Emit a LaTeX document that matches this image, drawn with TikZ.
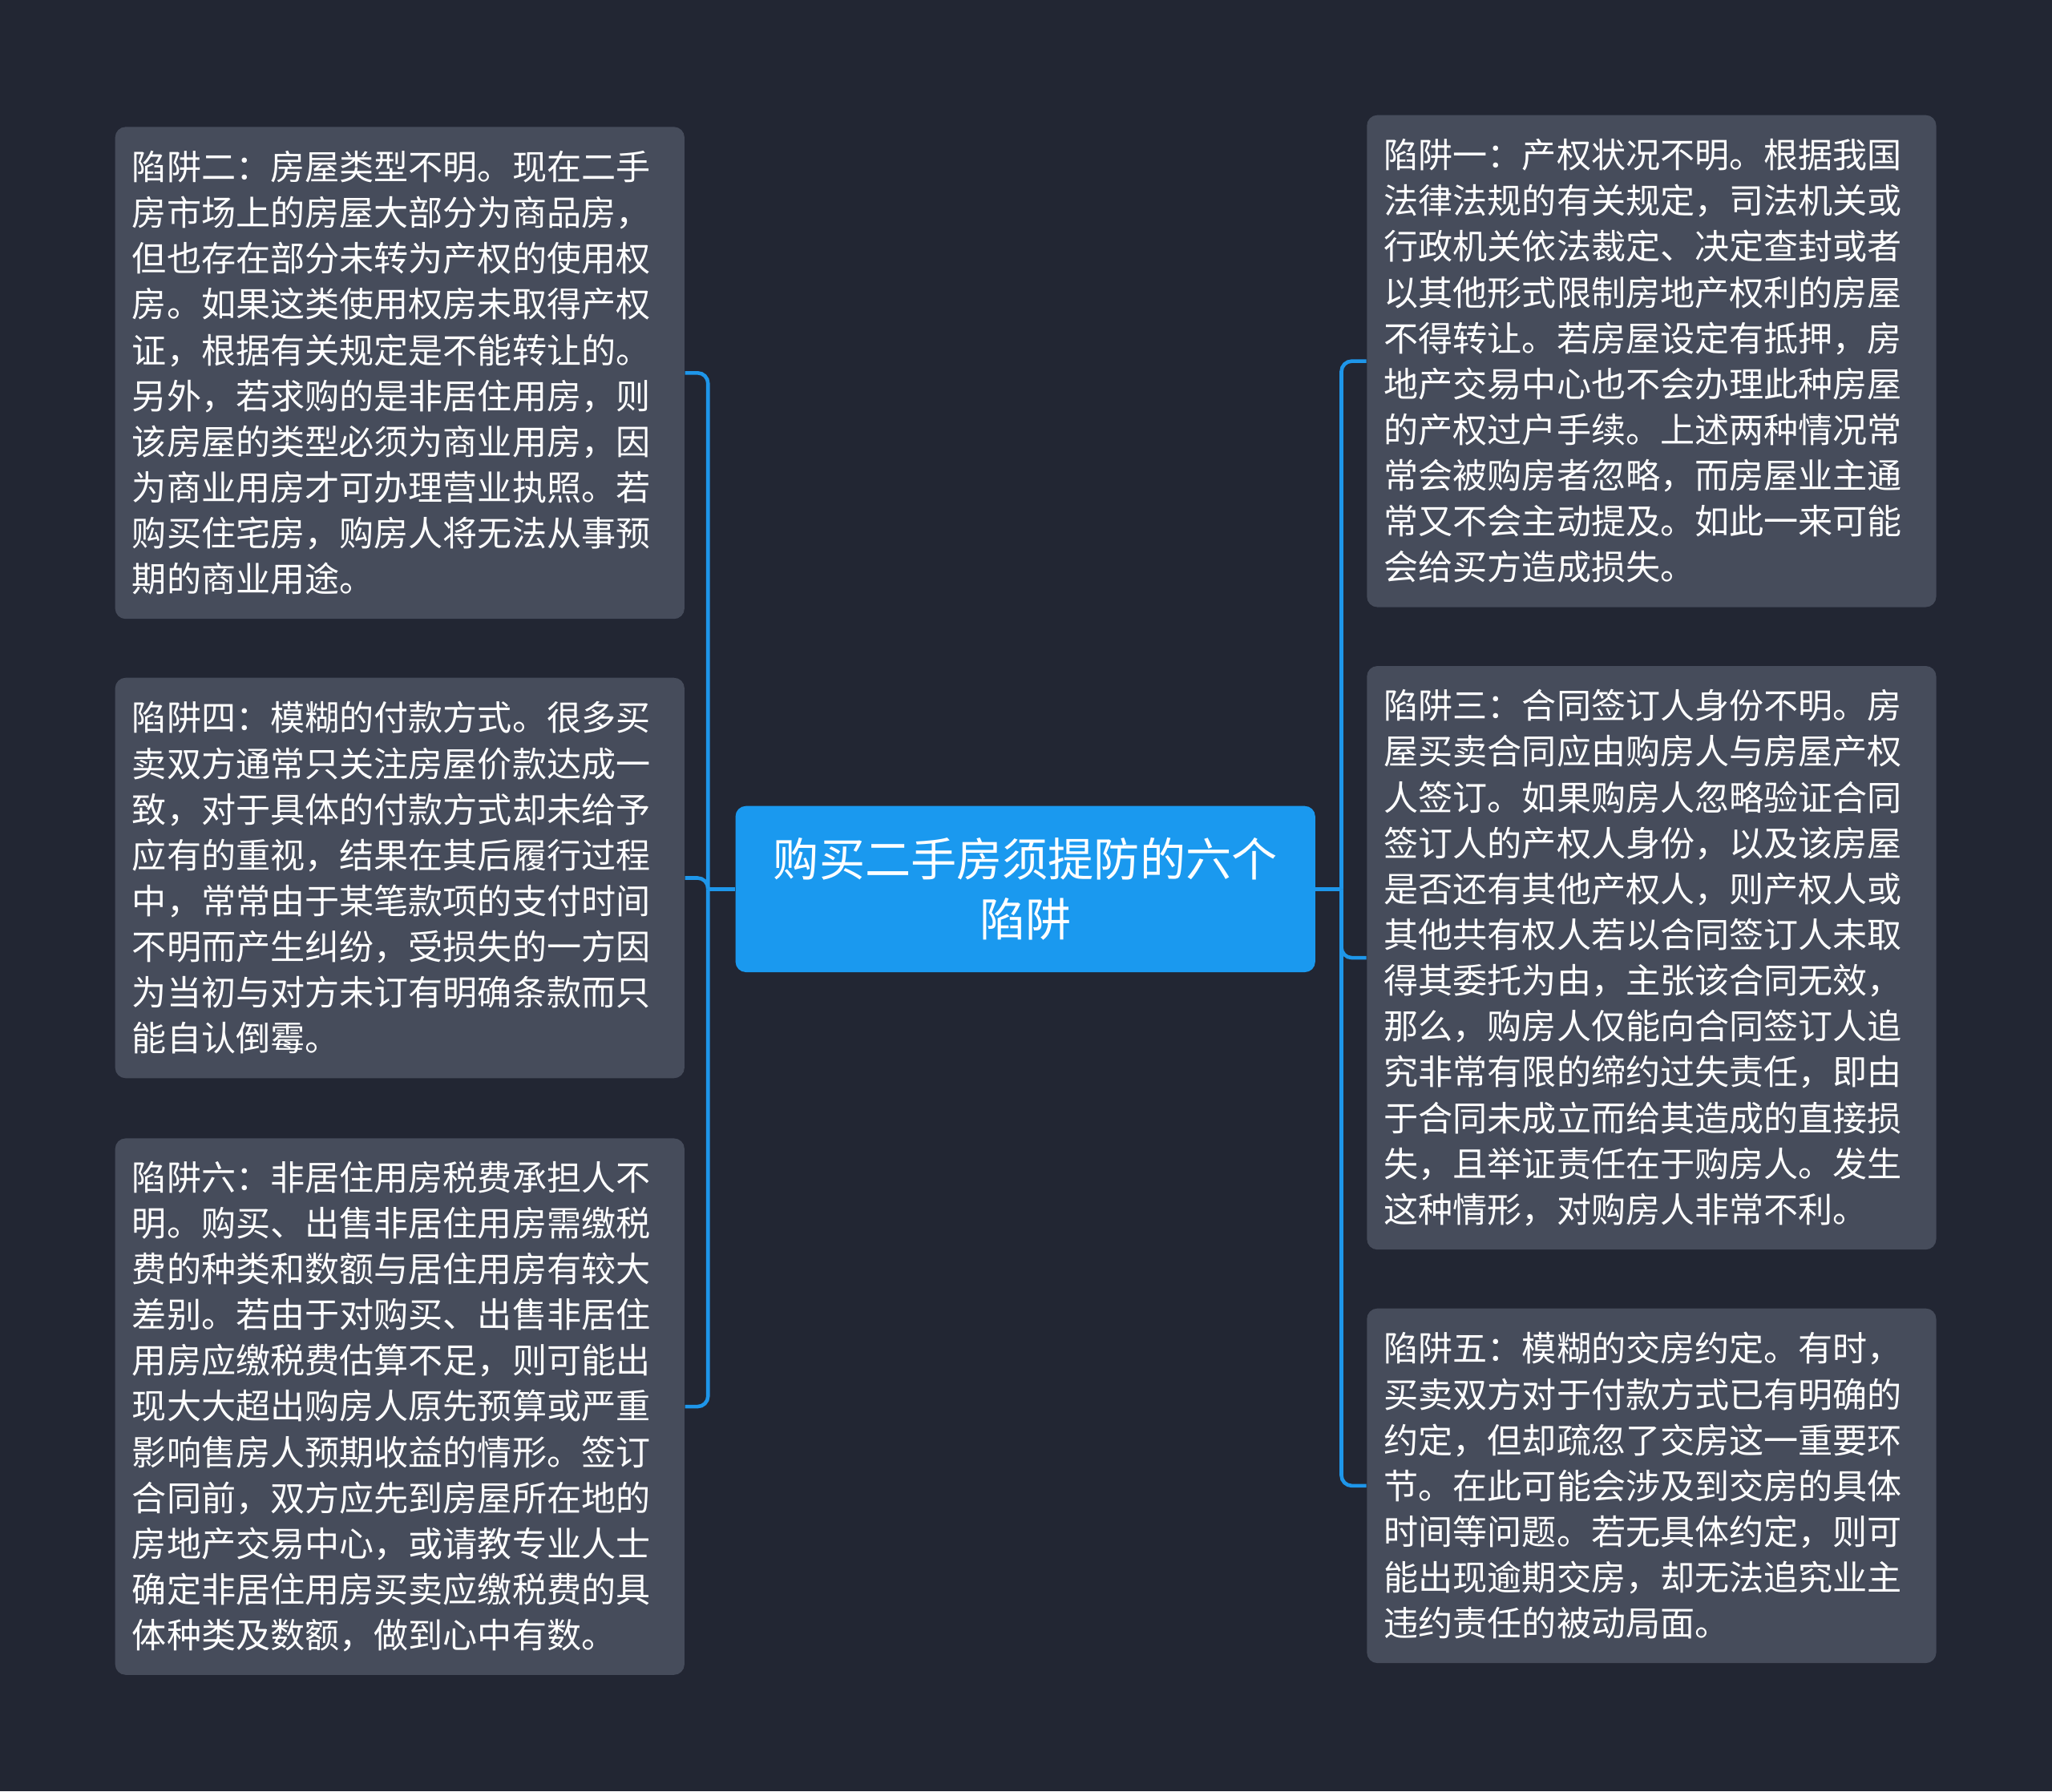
\documentclass[tikz,border=0pt]{standalone}
\usepackage{fontspec}
\setmainfont{Noto Sans CJK SC}
\definecolor{bgc}{HTML}{222633}
\definecolor{boxc}{HTML}{464C5B}
\definecolor{mainc}{HTML}{1A99EF}
\definecolor{linec}{HTML}{1E96EA}
\tikzset{
  box/.style={draw=none, fill=boxc, rounded corners=4pt, text=white, align=left,
    text width=204.5pt, inner xsep=6.5pt, inner ysep=0pt,
    font={\fontsize{13.2pt}{17.5pt}\selectfont}},
  mainbox/.style={fill=mainc, rounded corners=4pt, text=white, align=center,
    minimum width=221.5pt, minimum height=63.5pt, inner sep=0pt,
    font={\fontsize{17.5pt}{23pt}\selectfont}},
  conn/.style={draw=linec, line width=1.4pt, rounded corners=4pt}
}
\begin{document}
\begin{tikzpicture}[x=0.5pt,y=-0.5pt]
\useasboundingbox (0,0) rectangle (1568,1369);
\fill[bgc] (0,0) rectangle (1568,1369);

\coordinate (jl) at (541,679.5);
\coordinate (jr) at (1025,679.5);

\node[mainbox] (c) at (783.5,679.5) {购买二手房须提防的六个\\陷阱};

\node[box, minimum height=188pt] (L1) at (305.5,285) {陷阱二：房屋类型不明。现在二手\\房市场上的房屋大部分为商品房，\\但也存在部分未转为产权的使用权\\房。如果这类使用权房未取得产权\\证，根据有关规定是不能转让的。\\另外，若求购的是非居住用房，则\\该房屋的类型必须为商业用房，因\\为商业用房才可办理营业执照。若\\购买住宅房，购房人将无法从事预\\期的商业用途。};

\node[box, minimum height=153pt] (L2) at (305.5,671) {陷阱四：模糊的付款方式。很多买\\卖双方通常只关注房屋价款达成一\\致，对于具体的付款方式却未给予\\应有的重视，结果在其后履行过程\\中，常常由于某笔款项的支付时间\\不明而产生纠纷，受损失的一方因\\为当初与对方未订有明确条款而只\\能自认倒霉。};

\node[box, minimum height=205pt] (L3) at (305.5,1075) {陷阱六：非居住用房税费承担人不\\明。购买、出售非居住用房需缴税\\费的种类和数额与居住用房有较大\\差别。若由于对购买、出售非居住\\用房应缴税费估算不足，则可能出\\现大大超出购房人原先预算或严重\\影响售房人预期收益的情形。签订\\合同前，双方应先到房屋所在地的\\房地产交易中心，或请教专业人士\\确定非居住用房买卖应缴税费的具\\体种类及数额，做到心中有数。};

\node[box, minimum height=188pt] (R1) at (1262,276) {陷阱一：产权状况不明。根据我国\\法律法规的有关规定，司法机关或\\行政机关依法裁定、决定查封或者\\以其他形式限制房地产权利的房屋\\不得转让。若房屋设定有抵押，房\\地产交易中心也不会办理此种房屋\\的产权过户手续。上述两种情况常\\常会被购房者忽略，而房屋业主通\\常又不会主动提及。如此一来可能\\会给买方造成损失。};

\node[box, minimum height=223pt] (R2) at (1262,732) {陷阱三：合同签订人身份不明。房\\屋买卖合同应由购房人与房屋产权\\人签订。如果购房人忽略验证合同\\签订人的产权人身份，以及该房屋\\是否还有其他产权人，则产权人或\\其他共有权人若以合同签订人未取\\得其委托为由，主张该合同无效，\\那么，购房人仅能向合同签订人追\\究非常有限的缔约过失责任，即由\\于合同未成立而给其造成的直接损\\失，且举证责任在于购房人。发生\\这种情形，对购房人非常不利。};

\node[box, minimum height=135.5pt] (R3) at (1262,1135.5) {陷阱五：模糊的交房约定。有时，\\买卖双方对于付款方式已有明确的\\约定，但却疏忽了交房这一重要环\\节。在此可能会涉及到交房的具体\\时间等问题。若无具体约定，则可\\能出现逾期交房，却无法追究业主\\违约责任的被动局面。};

\draw[conn] (c.west) -- (jl);
\draw[conn] (jl) |- (L1.east);
\draw[conn] (jl) |- (L2.east);
\draw[conn] (jl) |- (L3.east);
\draw[conn] (c.east) -- (jr);
\draw[conn] (jr) |- (R1.west);
\draw[conn] (jr) |- (R2.west);
\draw[conn] (jr) |- (R3.west);
\end{tikzpicture}
\end{document}
